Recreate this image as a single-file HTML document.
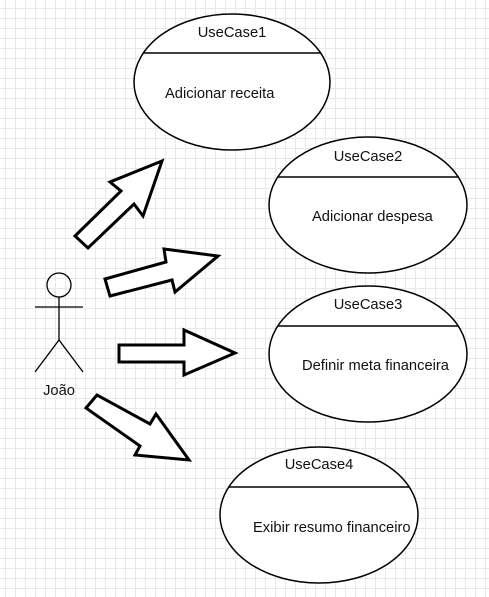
<!DOCTYPE html>
<html><head><meta charset="utf-8"><style>
html,body{margin:0;padding:0}
body{width:489px;height:597px;overflow:hidden;background:#fff;
background-image:linear-gradient(#e8e8e8 1px,transparent 1px),linear-gradient(90deg,#e8e8e8 1px,transparent 1px);
background-size:10px 10px;background-position:0 -2px,5px 0;}
svg{position:absolute;left:0;top:0}
text{font-family:"Liberation Sans",sans-serif;font-size:14.7px;fill:#111}
</style></head><body>
<svg width="489" height="597" viewBox="0 0 489 597">
<g fill="#fff" stroke="#000" stroke-width="1.5">
<ellipse cx="232" cy="82" rx="98" ry="68"/>
<ellipse cx="368" cy="205" rx="99" ry="68"/>
<ellipse cx="368" cy="354" rx="99" ry="68"/>
<ellipse cx="319" cy="515" rx="99" ry="68"/>
</g>
<g stroke="#000" stroke-width="1.5">
<line x1="143" y1="53" x2="321" y2="53"/>
<line x1="278" y1="177" x2="458" y2="177"/>
<line x1="278" y1="326" x2="458" y2="326"/>
<line x1="229" y1="487" x2="409" y2="487"/>
</g>
<text x="232" y="37" text-anchor="middle">UseCase1</text>
<text x="165" y="98">Adicionar receita</text>
<text x="368" y="161" text-anchor="middle">UseCase2</text>
<text x="312" y="221">Adicionar despesa</text>
<text x="368" y="309" text-anchor="middle">UseCase3</text>
<text x="302" y="370">Definir meta financeira</text>
<text x="319" y="469" text-anchor="middle">UseCase4</text>
<text x="253" y="532">Exibir resumo financeiro</text>
<g fill="#fff" stroke="#000" stroke-width="3" stroke-linejoin="miter">
<polygon points="75,236 121,191 110,182 162,161 143,216 134,204 88,248"/>
<polygon points="105,279 166,262 164,249 218,256 175,292 172,280 110,296"/>
<polygon points="119,345 184,345 184,330 235,353 184,375 184,362 119,362"/>
<polygon points="86,408 97,395 150,424 156,414 189,460 135,455 140,446"/>
</g>
<g fill="none" stroke="#000" stroke-width="1.3">
<circle cx="59" cy="285" r="12"/>
<line x1="59" y1="297" x2="59" y2="340"/>
<line x1="35" y1="307" x2="83" y2="307"/>
<line x1="59" y1="340" x2="35" y2="372"/>
<line x1="59" y1="340" x2="83" y2="372"/>
</g>
<text x="59" y="395" text-anchor="middle">João</text>
</svg>
</body></html>
